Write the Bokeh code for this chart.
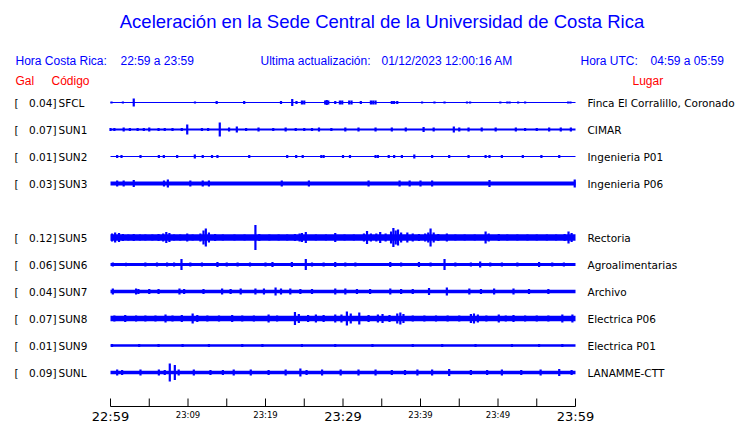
from bokeh.plotting import figure
from bokeh.models import Range1d
from bokeh.core.properties import value
from bokeh.embed import file_html
from bokeh.resources import INLINE

# ---------------- data ----------------
codes = ["SFCL", "SUN1", "SUN2", "SUN3", "SUN5", "SUN6", "SUN7", "SUN8", "SUN9", "SUNL"]
rows = [0, 1, 2, 3, 5, 6, 7, 8, 9, 10]
gal = ["0.04", "0.07", "0.01", "0.03", "0.12", "0.06", "0.04", "0.07", "0.01", "0.09"]
places = ["Finca El Corralillo, Coronado", "CIMAR", "Ingenieria P01", "Ingenieria P06",
          "Rectoria", "Agroalimentarias", "Archivo", "Electrica P06", "Electrica P01", "LANAMME-CTT"]
# half thickness of each trace's background noise band (px)
base_half = [0.5, 1.0, 0.5, 1.9, 3.2, 1.4, 1.8, 2.8, 1.2, 1.8]

# bursts: (minute after 22:59, half amplitude px)
sfcl_spikes = [(0.13, 1), (1.6, 1), (3.0, 4), (10.9, 1), (13.7, 1.5), (17.25, 1.5), (22.0, 1.5),
               (23.45, 3.5), (24.0, 1.5), (24.7, 2), (25.0, 2), (27.7, 2), (27.9, 2.5), (28.1, 2),
               (29.0, 1.5), (29.6, 2), (29.9, 2), (30.8, 2), (31.1, 2), (32.3, 1.5), (33.6, 2),
               (33.9, 2), (34.2, 2), (36.3, 1.5), (36.6, 1.5), (37.0, 1.5), (40.2, 1), (41.8, 1),
               (43.1, 1), (46.0, 1), (46.4, 1), (50.3, 1), (51.2, 1), (51.5, 1), (52.6, 1),
               (53.5, 1), (59.05, 1), (59.35, 1)]
sun1_spikes = [(0.0, 1.5), (0.5, 1.5), (1.7, 2), (2.5, 1.5), (3.5, 1.5), (4.3, 1.5), (5.0, 2),
               (6.2, 1.5), (7.0, 1.5), (8.0, 1.5), (9.2, 1.5), (9.9, 5), (11.8, 1.5), (12.6, 1.5),
               (14.1, 7), (15.3, 2), (16.3, 3), (17.5, 1.5), (19.1, 2), (21.0, 1.5), (22.6, 2),
               (23.9, 1.5), (25.0, 1.5), (26.0, 1.5), (26.9, 2), (28.5, 1.5), (30.3, 2), (32.0, 2),
               (34.2, 2), (36.3, 2), (38.1, 2), (40.4, 2.5), (41.7, 2), (44.3, 3), (45.0, 2),
               (46.2, 2), (47.9, 2), (49.7, 2), (52.3, 2), (53.5, 1.5), (55.0, 1.5), (56.6, 2),
               (58.1, 2), (59.4, 2)]
sun2_spikes = [(0.86, 1.5), (1.42, 1.5), (3.87, 1.5), (6.24, 1.5), (6.88, 1.5), (8.6, 1.5),
               (10.88, 2), (11.9, 1.5), (13.1, 1.5), (13.8, 1.5), (17.9, 1.5), (22.8, 1.5),
               (23.96, 1.5), (24.8, 1.5), (27.2, 1.5), (27.5, 1.5), (30.0, 1.5), (30.9, 1.5),
               (34.2, 1.5), (34.5, 1.5), (35.9, 1.5), (36.6, 1.5), (37.6, 1.5), (39.2, 2),
               (41.5, 1.5), (43.7, 1.5), (46.2, 1.5), (48.4, 1.5), (48.9, 1.5), (50.5, 1.5),
               (53.2, 1.5), (55.6, 1.5), (57.9, 1.5)]
sun3_spikes = [(0.86, 3), (1.7, 3), (3.0, 3.5), (6.9, 3), (7.4, 4), (10.3, 3), (11.9, 3),
               (12.7, 3), (22.1, 3), (25.6, 3), (33.3, 3), (37.3, 3), (38.6, 3), (40.0, 3),
               (41.5, 3), (48.9, 3.5), (59.9, 4)]
sun5_spikes = [(0.2, 4), (0.6, 5), (1.1, 4.5), (1.6, 3.5), (2.3, 3), (3.0, 3.5), (3.8, 3),
               (4.5, 3), (5.4, 3), (6.2, 3.5), (6.8, 4), (7.2, 5.5), (7.6, 4.5), (8.2, 3),
               (9.0, 3), (9.9, 4), (10.6, 3), (11.6, 4), (12.0, 7), (12.3, 9), (12.7, 5),
               (13.5, 3.5), (14.5, 3), (16.0, 3), (17.3, 3), (18.7, 12.5), (19.2, 3.5), (20.5, 3),
               (21.7, 3), (22.8, 3), (23.8, 3.5), (24.4, 4), (24.7, 4.5), (25.2, 5.5), (26.5, 3),
               (27.8, 3), (29.0, 4.5), (30.2, 3), (31.4, 3), (32.7, 4), (33.1, 6.5), (33.6, 4),
               (34.3, 4), (34.8, 5.5), (35.5, 4), (36.2, 6), (36.5, 9.5), (36.8, 7), (37.1, 8),
               (37.5, 5), (38.3, 5), (39.0, 4), (39.8, 3.5), (40.6, 4), (41.0, 5), (41.3, 9),
               (41.7, 5), (42.3, 3.5), (43.4, 4), (44.5, 3), (45.7, 3), (47.0, 3), (48.4, 6),
               (48.8, 4), (50.1, 3.5), (51.2, 3), (52.5, 3), (53.8, 3), (55.0, 3), (56.3, 3),
               (57.5, 3), (58.6, 3.5), (59.1, 6), (59.5, 4.5)]
sun6_spikes = [(0.3, 2), (2.0, 1.8), (4.5, 2), (6.0, 2), (7.3, 2), (8.2, 2), (9.16, 5.5),
               (10.3, 2), (11.8, 2), (13.8, 2.5), (15.0, 2), (16.4, 2), (18.0, 2), (20.0, 2),
               (20.9, 2.5), (23.4, 2.5), (25.2, 5.5), (26.0, 2), (27.5, 2), (29.0, 2.5), (30.3, 2),
               (31.6, 2), (36.1, 2.5), (37.5, 2), (39.8, 2.5), (41.3, 2), (43.1, 5.5), (44.5, 2),
               (46.5, 2), (47.7, 3), (49.0, 2), (50.5, 2), (52.5, 2), (55.3, 2.5), (57.0, 2),
               (58.5, 2)]
sun7_spikes = [(0.3, 3), (3.3, 3), (3.6, 2.5), (5.0, 2.5), (6.2, 2.5), (8.9, 3), (9.5, 2.5),
               (12.0, 2.5), (14.4, 3), (15.5, 2.5), (16.8, 3), (18.7, 3), (19.8, 3), (21.3, 4),
               (22.0, 3), (23.2, 3), (24.5, 2.5), (26.0, 2.5), (29.0, 3), (30.3, 3), (31.8, 2.5),
               (33.5, 2.5), (36.1, 3), (37.5, 2.5), (39.0, 2.5), (41.1, 3.5), (43.4, 4), (46.3, 3),
               (47.8, 2.5), (49.5, 3), (52.0, 3), (54.0, 2.5), (56.5, 2.5)]
sun8_spikes = [(0.5, 3), (1.9, 3.5), (3.3, 3), (4.5, 3), (5.8, 3), (7.1, 4), (8.0, 3), (9.2, 3.5),
               (10.6, 5), (11.2, 3.5), (12.5, 3), (14.0, 3), (15.7, 3.5), (17.0, 3), (18.5, 3),
               (20.4, 4), (21.5, 3), (23.8, 6.5), (24.3, 4.5), (25.5, 3.5), (26.5, 4), (27.5, 3.5),
               (29.0, 4), (29.8, 4), (30.5, 7), (31.0, 5), (32.1, 6), (33.3, 3.5), (34.5, 4),
               (35.1, 4.5), (36.0, 3.5), (37.0, 5), (37.4, 6), (37.8, 4.5), (39.0, 3), (40.5, 3),
               (42.0, 3), (43.5, 3), (45.0, 3), (46.5, 4.5), (46.9, 5), (47.4, 4), (48.5, 3),
               (50.1, 4), (51.0, 3), (52.0, 3.5), (53.5, 3), (55.0, 3), (56.5, 3), (58.3, 4),
               (59.6, 4)]
sun9_spikes = [(0.2, 1.5), (3.7, 1.5), (6.2, 1.5), (9.3, 1.5), (12.7, 1.5), (17.0, 1.5),
               (19.6, 1.5), (24.7, 1.5), (29.0, 1.5), (33.8, 1.5), (39.0, 1.5), (42.8, 1.5),
               (47.1, 1.5), (51.8, 1.5), (55.3, 1.5), (58.3, 1.5)]
sunl_spikes = [(0.86, 3), (1.5, 2.5), (3.87, 3), (6.24, 3), (7.0, 2.5), (7.65, 9), (8.3, 7.5),
               (8.8, 3), (10.75, 3), (12.9, 2.5), (14.5, 2.5), (15.9, 3), (18.1, 3), (20.4, 2.5),
               (22.6, 3), (24.5, 4), (25.3, 2.5), (27.3, 3), (29.7, 3), (32.0, 3), (34.2, 3),
               (36.3, 2.5), (38.0, 2.5), (39.6, 3), (41.5, 3), (43.7, 3.5), (46.5, 2.5), (48.6, 2.5),
               (50.5, 3), (53.0, 2.5), (55.5, 3), (57.9, 3.5), (59.5, 2.5)]
spikes = [sfcl_spikes, sun1_spikes, sun2_spikes, sun3_spikes, sun5_spikes,
          sun6_spikes, sun7_spikes, sun8_spikes, sun9_spikes, sunl_spikes]

tick_minutes = [0, 5, 10, 15, 20, 25, 30, 35, 40, 45, 50, 55, 60]
big_label_minutes = [0, 30, 60]
big_labels = ["22:59", "23:29", "23:59"]
small_label_minutes = [10, 20, 40, 50]
small_labels = ["23:09", "23:19", "23:39", "23:49"]

title = "Aceleración en la Sede Central de la Universidad de Costa Rica"

# ---------------- layout constants (picture pixels) ----------------
W, H, M = 740, 423, 0
X0 = 110.0          # x of 22:59
PPM = 7.75          # pixels per minute
ROW0 = 102.0        # y of first trace
ROWPX = 27.0        # row spacing
AXIS_Y = 406.0      # y of time axis line
BLUE = "#0000FF"
RED = "#FF0000"


def dx(px):
    return (px - X0) / PPM


def dy(py):
    return py - ROW0


p = figure(width=W, height=H, output_backend="svg", toolbar_location=None,
           x_axis_type=None, y_axis_type=None, min_border=0,
           x_range=Range1d(dx(M), dx(M + W)),
           y_range=Range1d(dy(M + H), dy(M)))
p.grid.visible = False
p.outline_line_color = None
p.background_fill_color = "white"
p.border_fill_color = "white"

t_end = tick_minutes[-1]

# traces
for r, h, sp in zip(rows, base_half, spikes):
    yc = r * ROWPX
    p.quad(left=[0], right=[t_end], bottom=[yc - h], top=[yc + h],
           fill_color=BLUE, line_color=None)
    ts = [s[0] for s in sp]
    am = [s[1] for s in sp]
    p.segment(x0=ts, x1=ts, y0=[yc - a for a in am], y1=[yc + a for a in am],
              line_color=BLUE, line_width=2.2)


def txt(xs, ys, texts, size, color="black", font="DejaVu Sans", align="left", baseline="middle"):
    p.text(x=xs, y=ys, text=texts, text_font=value(font), text_font_size=size,
           text_color=color, text_align=align, text_baseline=baseline)


# station labels
ys = [r * ROWPX for r in rows]
txt([dx(14)] * len(rows), ys, ["["] * len(rows), "10.5px")
txt([dx(56)] * len(rows), ys, [g + "]" for g in gal], "10.5px", align="right")
txt([dx(58)] * len(rows), ys, codes, "10.5px")
txt([dx(587)] * len(rows), ys, places, "10.5px")

# headers
txt([dx(381.5)], [dy(21)], [title], "18.5px", color=BLUE, font="Liberation Sans", align="center")
txt([dx(15), dx(120), dx(260), dx(381), dx(580), dx(650)], [dy(60)] * 6,
    ["Hora Costa Rica:", "22:59 a 23:59", "Ultima actualización:", "01/12/2023 12:00:16 AM",
     "Hora UTC:", "04:59 a 05:59"], "12px", color=BLUE, font="Liberation Sans")
txt([dx(15), dx(51), dx(632)], [dy(80)] * 3, ["Gal", "Código", "Lugar"], "12px",
    color=RED, font="Liberation Sans")

# time axis
ay = dy(AXIS_Y)
p.segment(x0=[0], x1=[t_end], y0=[ay], y1=[ay], line_color="black", line_width=1)
p.segment(x0=tick_minutes, x1=tick_minutes, y0=[ay] * len(tick_minutes),
          y1=[ay - 8] * len(tick_minutes), line_color="black", line_width=1)
txt(big_label_minutes, [dy(416)] * 3, big_labels, "13px", align="center", baseline="alphabetic")
txt(small_label_minutes, [dy(414)] * 4, small_labels, "8.5px", align="center", baseline="alphabetic")

open("out.html", "w").write(file_html(p, INLINE))
